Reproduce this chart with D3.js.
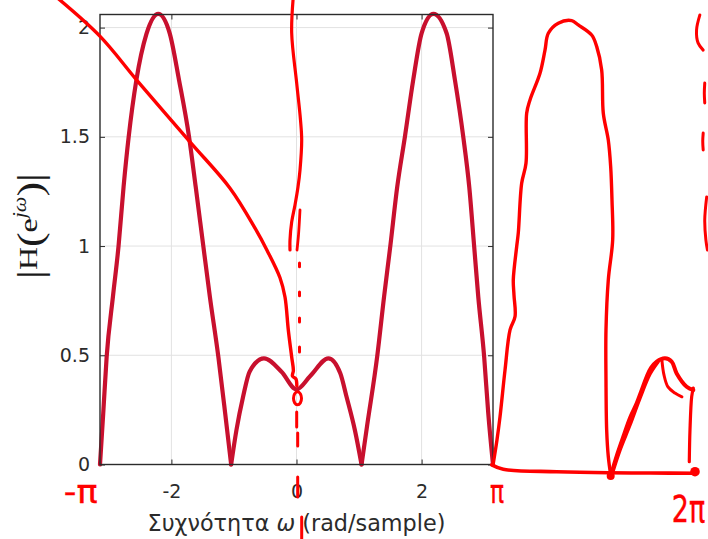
<!DOCTYPE html>
<html><head><meta charset="utf-8">
<script src="https://cdn.jsdelivr.net/npm/d3@7"></script>
<style>html,body{margin:0;padding:0;background:#fff;overflow:hidden}svg{display:block}</style>
</head><body>
<svg id="c" width="708" height="539"></svg>
<script>
// ---- chart data ----
const omega = [-3.1416,-3.09,-3.035,-2.935,-2.845,-2.765,-2.683,-2.56,-2.40,-2.21,-2.027,-1.878,-1.718,-1.611,-1.49,-1.385,-1.25,-1.14,-1.045,-0.96,-0.854,-0.75,-0.52,-0.24,0,0.22,0.51,0.70,0.80,0.933,1.04,1.13,1.29,1.40,1.50,1.61,1.733,1.866,2.0,2.19,2.40,2.533,2.666,2.762,2.84,2.906,3.0,3.066,3.1416];
const magnitude = [0,0.234,0.494,0.768,1.0,1.27,1.50,1.76,1.97,2.063,1.974,1.76,1.50,1.27,1.0,0.768,0.494,0.234,0,0.158,0.31,0.425,0.486,0.425,0.344,0.405,0.486,0.418,0.31,0.158,0,0.18,0.494,0.768,1.0,1.27,1.50,1.76,1.974,2.063,1.974,1.76,1.50,1.27,1.0,0.768,0.494,0.234,0];
const xDomain = [-Math.PI, Math.PI];
const yDomain = [0, 2.06];
const xTicks = [-2, 0, 2];
const xTickLabels = ["-2", "0", "2"];
const yTicks = [0, 0.5, 1, 1.5, 2];
const yTickLabels = ["0", "0.5", "1", "1.5", "2"];
const xLabelMain = "Συχνότητα ";
const xLabelSym = "ω";
const xLabelUnit = " (rad/sample)";

// ---- hand-drawn annotations, in the chart's data units (ω, |H|) ----
const annoDiagonal = [[-3.86,2.145],[-3.14,1.96],[-2.555,1.76],[-1.70,1.476],[-1.063,1.265],[-0.663,1.082],[-0.47,0.98],[-0.264,0.855],[-0.184,0.767],[-0.131,0.616],[-0.077,0.492],[-0.05,0.43],[-0.065,0.405],[-0.01,0.392],[0.005,0.36]];
const annoVertical = [[-0.05,2.145],[-0.077,1.975],[0.003,1.746],[0.064,1.577],[0.083,1.485],[0.056,1.348],[0.024,1.27],[-0.024,1.188],[-0.077,1.11],[-0.104,1.027],[-0.104,0.982]];
const annoVertical2 = [[0.056,1.165],[0.032,1.051],[0.008,0.982]];
const annoCircle = [0.016, 0.303];
const annoDashes = [[0.048,0.922,0.905],[0.048,0.790,0.772],[0.048,0.671,0.652],[0.048,0.538,0.515],[0.003,0.240,0.172],[0.019,0.144,0.085],[0.019,-0.057,-0.149],[0.083,-0.240,-0.345]];
const annoBaseline = [[3.121,-0.002],[3.306,-0.022],[4.16,-0.033],[4.985,-0.038],[5.652,-0.039],[6.398,-0.040]];
const annoArch = [[3.146,0.005],[3.205,0.112],[3.254,0.219],[3.334,0.433],[3.414,0.616],[3.494,0.677],[3.477,0.776],[3.466,0.845],[3.52,0.997],[3.546,1.06],[3.60,1.287],[3.669,1.379],[3.68,1.608],[3.733,1.669],[3.893,1.791],[3.973,1.897],[4.026,1.974],[4.185,2.02],[4.40,2.032],[4.505,2.012],[4.719,1.966],[4.80,1.913],[4.879,1.806],[4.905,1.608],[4.985,1.485],[5.023,1.363],[5.044,1.211],[5.055,1.028],[4.985,0.845],[4.948,0.616],[4.948,0.387],[4.959,0.158],[4.985,0.036],[5.023,-0.048]];
const annoBump = [[5.023,-0.053],[5.124,0.043],[5.225,0.127],[5.332,0.213],[5.439,0.28],[5.508,0.332],[5.599,0.402],[5.668,0.442],[5.759,0.471],[5.891,0.486],[5.998,0.471],[6.078,0.417],[6.238,0.356],[6.344,0.341]];
const annoBump2 = [[5.047,-0.043],[5.172,0.066],[5.332,0.181],[5.492,0.304],[5.652,0.414],[5.78,0.469]];
const annoBumpInner = [[5.843,0.474],[5.875,0.41],[5.939,0.355],[6.05,0.327],[6.162,0.31]];
const annoBumpDrop = [[6.344,0.35],[6.318,0.31],[6.291,0.158],[6.28,0.013]];
const annoRightMarks = [
  [[6.449,2.058],[6.396,1.989],[6.42,1.93],[6.502,1.897]],
  [[6.527,1.746],[6.52,1.70],[6.527,1.655]],
  [[6.502,1.517],[6.495,1.48],[6.502,1.44]],
  [[6.558,1.225],[6.527,1.12],[6.545,1.028],[6.57,0.982]]
];
const annoDots = [[6.371,-0.033],[5.023,-0.053]];
const annoLabels = [
  {text:"-π", w:-3.72, v:-0.176},
  {text:"π", w:3.094, v:-0.176},
  {text:"2π", w:6.0, v:-0.262}
];

// ---- drawing ----
const svg = d3.select("#c");
const x = d3.scaleLinear().domain(xDomain).range([100, 493]);
const y = d3.scaleLinear().domain(yDomain).range([464.5, 14.5]);
const axisColor = "#2b2b2b";
const tickFont = "'DejaVu Sans', 'Liberation Sans', sans-serif";

// grid
const grid = svg.append("g");
grid.selectAll("line.vx").data(xTicks).join("line")
  .attr("x1", d => x(d)).attr("x2", d => x(d))
  .attr("y1", y(yDomain[0])).attr("y2", y(yDomain[1]))
  .attr("stroke", "#e2e2e2").attr("stroke-width", 1);
grid.selectAll("line.hy").data(yTicks.filter(d => d > 0)).join("line")
  .attr("x1", x(xDomain[0])).attr("x2", x(xDomain[1]))
  .attr("y1", d => y(d)).attr("y2", d => y(d))
  .attr("stroke", "#e2e2e2").attr("stroke-width", 1);

// curve, split at zeros so that the notches stay sharp
const pts = omega.map((w, i) => [w, magnitude[i]]);
const segs = []; let cur = [pts[0]];
for (let i = 1; i < pts.length; i++) {
  cur.push(pts[i]);
  if (pts[i][1] === 0 && i < pts.length - 1) { segs.push(cur); cur = [pts[i]]; }
}
segs.push(cur);
const curveLine = d3.line().x(d => x(d[0])).y(d => y(d[1])).curve(d3.curveMonotoneX);
svg.append("g").selectAll("path").data(segs).join("path")
  .attr("d", curveLine).attr("fill", "none")
  .attr("stroke", "#c8102e").attr("stroke-width", 4.2)
  .attr("stroke-linejoin", "round").attr("stroke-linecap", "round");

// axes (ticks inside, MATLAB style)
function styleAxis(g) {
  g.select(".domain").remove();
  g.selectAll(".tick line").attr("stroke", axisColor).attr("stroke-width", 1);
  g.selectAll(".tick text").attr("fill", axisColor)
    .style("font-family", tickFont).style("font-size", "19px");
}
svg.append("g").attr("transform", `translate(0,${y(0)})`)
  .call(d3.axisBottom(x).tickValues(xTicks).tickFormat((d, i) => xTickLabels[i])
    .tickSizeInner(-5).tickSizeOuter(0).tickPadding(20))
  .call(styleAxis);
svg.append("g").attr("transform", `translate(0,${y(yDomain[1])})`)
  .call(d3.axisTop(x).tickValues(xTicks).tickFormat("").tickSizeInner(-5).tickSizeOuter(0))
  .call(styleAxis);
svg.append("g").attr("transform", `translate(${x(xDomain[0])},0)`)
  .call(d3.axisLeft(y).tickValues(yTicks).tickFormat((d, i) => yTickLabels[i])
    .tickSizeInner(-5).tickSizeOuter(0).tickPadding(10))
  .call(styleAxis);
svg.append("g").attr("transform", `translate(${x(xDomain[1])},0)`)
  .call(d3.axisRight(y).tickValues(yTicks).tickFormat("").tickSizeInner(-5).tickSizeOuter(0))
  .call(styleAxis);
svg.append("rect")
  .attr("x", x(xDomain[0])).attr("y", y(yDomain[1]))
  .attr("width", x(xDomain[1]) - x(xDomain[0])).attr("height", y(yDomain[0]) - y(yDomain[1]))
  .attr("fill", "none").attr("stroke", axisColor).attr("stroke-width", 1.4);

// x label
const xl = svg.append("text").attr("x", (x(xDomain[0]) + x(xDomain[1])) / 2).attr("y", 531)
  .attr("text-anchor", "middle").attr("fill", axisColor)
  .style("font-family", tickFont).style("font-size", "22px");
xl.append("tspan").text(xLabelMain);
xl.append("tspan").text(xLabelSym).style("font-style", "italic");
xl.append("tspan").text(xLabelUnit);
const xlLen = xl.node().getComputedTextLength();
xl.style("font-size", (22 * 298 / xlLen).toFixed(2) + "px");

// y label  |H(e^{jω})|
const yl = svg.append("text").attr("text-anchor", "middle").attr("fill", "#1a1a1a")
  .style("font-family", "'Liberation Serif', 'DejaVu Serif', serif");
const ylParts = [
  {t:"|", fs:36, dy:5}, {t:"H", fs:26, dy:-5}, {t:"(", fs:36, dy:5}, {t:"e", fs:26, dy:-5},
  {t:"j", fs:18, dy:-11, it:true}, {t:"ω", fs:18, dy:0, it:true}, {t:")", fs:36, dy:16}, {t:"|", fs:36, dy:0}
];
ylParts.forEach(p => {
  yl.append("tspan").text(p.t).attr("dy", p.dy).style("font-size", p.fs + "px")
    .style("font-style", p.it ? "italic" : "normal");
});
const ylb = yl.node().getBBox();
yl.attr("transform", `translate(37,226) rotate(-90) scale(${(106 / ylb.width).toFixed(3)},1)`);

// hand-drawn annotations
const anno = svg.append("g").attr("fill", "none").attr("stroke", "#ff0000")
  .attr("stroke-linecap", "round").attr("stroke-linejoin", "round");
const handLine = d3.line().x(d => x(d[0])).y(d => y(d[1])).curve(d3.curveCatmullRom.alpha(0.5));
const strokes = [
  {d: annoDiagonal, w: 3.4}, {d: annoVertical, w: 3.2}, {d: annoVertical2, w: 2.8},
  {d: annoBaseline, w: 3.6}, {d: annoArch, w: 3.4}, {d: annoBump, w: 4}, {d: annoBump2, w: 3.4},
  {d: annoBumpInner, w: 3}, {d: annoBumpDrop, w: 3.2}
].concat(annoRightMarks.map(m => ({d: m, w: 3})));
anno.selectAll("path.s").data(strokes).join("path")
  .attr("d", s => handLine(s.d)).attr("stroke-width", s => s.w);
anno.selectAll("line.dash").data(annoDashes).join("line")
  .attr("x1", d => x(d[0])).attr("x2", d => x(d[0]))
  .attr("y1", d => y(d[1])).attr("y2", d => y(d[2])).attr("stroke-width", 3);
anno.append("ellipse").attr("cx", x(annoCircle[0])).attr("cy", y(annoCircle[1]))
  .attr("rx", 4).attr("ry", 6.5).attr("stroke-width", 3);
svg.append("g").selectAll("circle").data(annoDots).join("circle")
  .attr("cx", d => x(d[0])).attr("cy", d => y(d[1])).attr("r", (d, i) => i === 0 ? 4.8 : 4)
  .attr("fill", "#ff0000");
// handwritten labels: narrow and tall, like the pen strokes
svg.append("g").selectAll("text").data(annoLabels).join("text")
  .attr("transform", (d, i) => `translate(${x(d.w)},${y(d.v)}) scale(${i === 0 ? 1.35 : i === 1 ? 0.9 : 1},${i === 2 ? 1.4 : 1.2})`)
  .text(d => d.text)
  .attr("fill", "#ff0000").attr("stroke", "#ff0000").attr("stroke-width", 0.3)
  .style("font-family", "'DejaVu Sans', sans-serif")
  .style("font-size", (d, i) => i === 2 ? "27px" : "26px");
</script>
</body></html>
